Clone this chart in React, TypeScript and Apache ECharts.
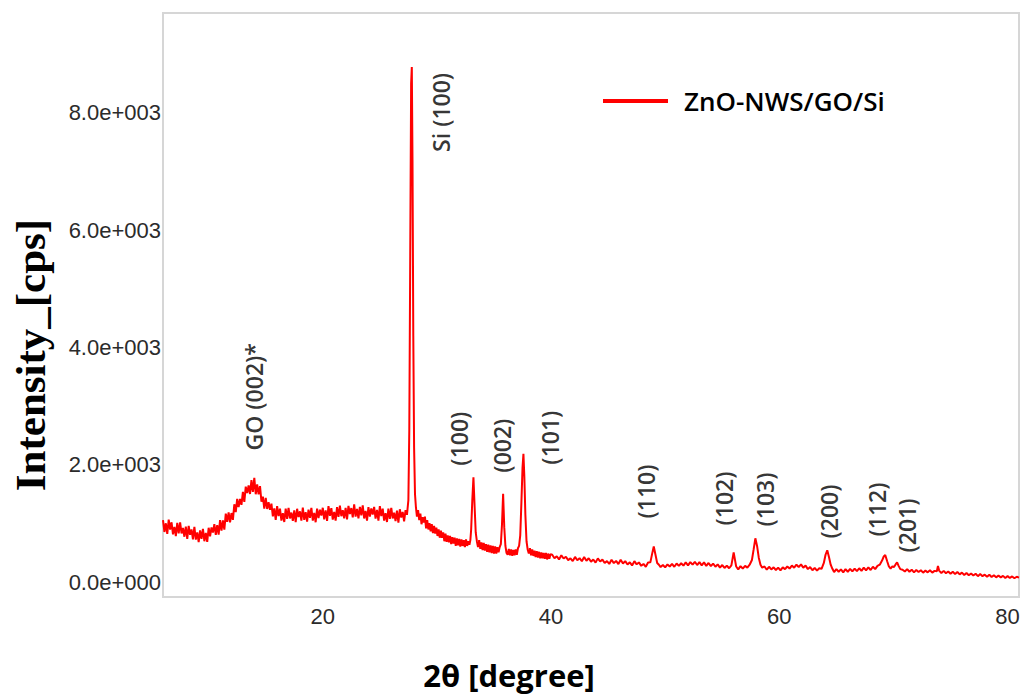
import React, { useEffect, useRef } from "react";
import * as echarts from "echarts";

// ---- data: 2θ [degree] vs intensity [cps] ----
const goRegion: [number, number][] = [
  [6.0, 1060], [6.125, 858], [6.25, 1006], [6.375, 824], [6.5, 1070], [6.625, 897], [6.75, 1023], [6.875, 819],
  [7.0, 945], [7.125, 789], [7.25, 1013], [7.375, 836], [7.5, 1020], [7.625, 832], [7.75, 925], [7.875, 777],
  [8.0, 950], [8.125, 740], [8.25, 960], [8.375, 810], [8.5, 900], [8.625, 732], [8.75, 945], [8.875, 727],
  [9.0, 850], [9.125, 687], [9.25, 885], [9.375, 742], [9.5, 910], [9.625, 700], [9.75, 840], [9.875, 690],
  [10.0, 930], [10.125, 782], [10.25, 935], [10.375, 848], [10.5, 990], [10.625, 807], [10.75, 975], [10.875, 812],
  [11.0, 1060], [11.125, 882], [11.25, 1055], [11.375, 898], [11.5, 1170], [11.625, 1030], [11.75, 1190], [11.875, 1020],
  [12.0, 1180], [12.125, 1065], [12.25, 1330], [12.375, 1195], [12.5, 1420], [12.625, 1280], [12.75, 1420], [12.875, 1320],
  [13.0, 1540], [13.125, 1370], [13.25, 1630], [13.375, 1520], [13.5, 1650], [13.625, 1505], [13.75, 1740], [13.875, 1540],
  [14.0, 1780], [14.125, 1500], [14.25, 1670], [14.375, 1500], [14.5, 1640], [14.625, 1375], [14.75, 1460], [14.875, 1255],
  [15.0, 1440], [15.125, 1250], [15.25, 1365], [15.375, 1235], [15.5, 1340], [15.625, 1125], [15.75, 1260], [15.875, 1065],
  [16.0, 1300], [16.125, 1128], [16.25, 1255], [16.375, 1053], [16.5, 1180], [16.625, 1028], [16.75, 1255], [16.875, 1083],
  [17.0, 1270], [17.125, 1089], [17.25, 1188], [17.375, 1047], [17.5, 1225], [17.625, 1024], [17.75, 1253], [17.875, 1112],
  [18.0, 1210], [18.125, 1051], [18.25, 1273], [18.375, 1064], [18.5, 1195], [18.625, 1036], [18.75, 1238], [18.875, 1099],
  [19.0, 1270], [19.125, 1051], [19.25, 1183], [19.375, 1024], [19.5, 1255], [19.625, 1096], [19.75, 1238], [19.875, 1139],
  [20.0, 1270], [20.125, 1073], [20.25, 1225], [20.375, 1048], [20.5, 1300], [20.625, 1133], [20.75, 1265], [20.875, 1068],
  [21.0, 1200], [21.125, 1051], [21.25, 1283], [21.375, 1114], [21.5, 1305], [21.625, 1126], [21.75, 1228], [21.875, 1089],
  [22.0, 1270], [22.125, 1071], [22.25, 1303], [22.375, 1164], [22.5, 1265], [22.625, 1106], [22.75, 1328], [22.875, 1119],
  [23.0, 1250], [23.125, 1088], [23.25, 1285], [23.375, 1143], [23.5, 1310], [23.625, 1088], [23.75, 1215], [23.875, 1053],
  [24.0, 1280], [24.125, 1119], [24.25, 1258], [24.375, 1156], [24.5, 1285], [24.625, 1084], [24.75, 1233], [24.875, 1051],
  [25.0, 1300], [25.125, 1128], [25.25, 1255], [25.375, 1053], [25.5, 1180], [25.625, 1028], [25.75, 1255], [25.875, 1083],
  [26.0, 1270], [26.125, 1088], [26.25, 1185], [26.375, 1043], [26.5, 1220], [26.625, 1018], [26.75, 1245], [26.875, 1103],
  [27.0, 1200], [27.125, 1038], [27.25, 1230], [27.375, 1150],
];

const siPeak: [number, number][] = [
  [27.5, 1400], [27.58, 2600], [27.66, 5500], [27.74, 8500], [27.8, 8780], [27.86, 7200], [27.93, 4200], [28.0, 2300],
  [28.08, 1500], [28.16, 1280], [28.25, 1120], [28.35, 1230], [28.45, 1060], [28.55, 1170], [28.65, 990], [28.75, 1110],
  [28.85, 1020], [28.95, 1120], [29.05, 920], [29.15, 1060], [29.25, 900], [29.35, 1010], [29.45, 870], [29.55, 990],
  [29.65, 840], [29.75, 960], [29.85, 830], [29.95, 930], [30.05, 790], [30.15, 900], [30.25, 760], [30.35, 880],
  [30.45, 760], [30.55, 850], [30.65, 700], [30.75, 830], [30.85, 690], [30.95, 800], [31.05, 680], [31.15, 790],
  [31.25, 650], [31.35, 770], [31.45, 660], [31.55, 760], [31.65, 620], [31.75, 750], [31.85, 630], [31.95, 740],
  [32.05, 610], [32.15, 730], [32.25, 620], [32.35, 720], [32.45, 600], [32.55, 730], [32.65, 620], [32.75, 700],
  [32.85, 640], [32.93, 720],
];

const znoMainPeaks: [number, number][] = [
  [33.0, 900], [33.1, 1400], [33.2, 1790], [33.3, 1300], [33.4, 850], [33.5, 700], [33.6, 600], [33.7, 720],
  [33.8, 570], [33.9, 680], [34.0, 550], [34.1, 670], [34.2, 540], [34.3, 650], [34.4, 520], [34.5, 640],
  [34.6, 510], [34.7, 630], [34.8, 500], [34.9, 620], [35.0, 490], [35.1, 610], [35.2, 490], [35.3, 600],
  [35.4, 510], [35.5, 600], [35.6, 650], [35.7, 980], [35.8, 1510], [35.9, 940], [36.0, 620], [36.1, 500],
  [36.2, 470], [36.3, 570], [36.4, 460], [36.5, 560], [36.6, 450], [36.7, 550], [36.8, 460], [36.9, 560],
  [37.0, 470], [37.1, 580], [37.2, 620], [37.3, 800], [37.4, 1350], [37.5, 1950], [37.58, 2190], [37.66, 1800],
  [37.75, 1150], [37.85, 700], [37.95, 560], [38.05, 490], [38.15, 580], [38.25, 460], [38.35, 560], [38.45, 450],
  [38.55, 540], [38.65, 430], [38.75, 530], [38.85, 420], [38.95, 520], [39.05, 410], [39.15, 510], [39.25, 410],
  [39.35, 500], [39.45, 400], [39.55, 500], [39.65, 390], [39.75, 490], [39.85, 400], [39.95, 480],
];

const highAngle: [number, number][] = [
  [40.1, 470], [40.3, 410], [40.5, 445], [40.7, 390], [40.9, 460], [41.1, 406], [41.3, 437], [41.5, 378],
  [41.7, 409], [41.9, 361], [42.1, 433], [42.3, 375], [42.5, 412], [42.7, 359], [42.9, 431], [43.1, 368],
  [43.3, 410], [43.5, 352], [43.7, 389], [43.9, 336], [44.1, 408], [44.3, 355], [44.5, 387], [44.7, 329],
  [44.9, 361], [45.1, 313], [45.3, 385], [45.5, 327], [45.7, 364], [45.9, 311], [46.1, 383], [46.3, 320],
  [46.5, 362], [46.7, 304], [46.9, 341], [47.1, 288], [47.3, 360], [47.5, 307], [47.7, 339], [47.9, 281],
  [48.1, 313], [48.3, 265], [48.5, 337], [48.7, 340], [48.85, 480], [49.0, 610], [49.15, 470], [49.3, 330],
  [49.45, 300], [49.6, 260], [49.8, 295], [50.0, 255], [50.2, 305], [50.4, 270], [50.6, 315], [50.8, 265],
  [51.0, 320], [51.2, 280], [51.4, 325], [51.6, 285], [51.8, 340], [52.0, 290], [52.2, 345], [52.4, 300],
  [52.6, 350], [52.8, 295], [53.0, 345], [53.2, 290], [53.4, 340], [53.6, 280], [53.8, 330], [54.0, 275],
  [54.2, 320], [54.4, 265], [54.6, 305], [54.8, 250], [55.0, 295], [55.2, 245], [55.4, 285], [55.6, 240],
  [55.8, 290], [55.92, 420], [56.0, 510], [56.1, 400], [56.22, 270], [56.4, 220], [56.6, 275], [56.8, 235],
  [57.0, 280], [57.2, 250], [57.4, 300], [57.6, 380], [57.75, 560], [57.9, 750], [58.05, 620], [58.2, 420],
  [58.35, 300], [58.5, 250], [58.7, 270], [58.9, 215], [59.1, 265], [59.3, 220], [59.5, 255], [59.7, 210],
  [59.9, 250], [60.1, 205], [60.3, 255], [60.5, 225], [60.7, 270], [60.9, 235], [61.1, 285], [61.3, 250],
  [61.5, 300], [61.7, 260], [61.9, 305], [62.1, 250], [62.3, 285], [62.5, 225], [62.7, 260], [62.9, 205],
  [63.1, 245], [63.3, 200], [63.5, 240], [63.7, 230], [63.9, 330], [64.05, 470], [64.2, 545], [64.35, 430],
  [64.5, 300], [64.65, 230], [64.8, 175], [65.0, 225], [65.2, 180], [65.4, 220], [65.6, 170], [65.8, 225],
  [66.0, 180], [66.2, 230], [66.4, 185], [66.6, 235], [66.8, 190], [67.0, 240], [67.2, 195], [67.4, 250],
  [67.6, 205], [67.8, 255], [68.0, 210], [68.2, 265], [68.4, 225], [68.6, 280], [68.8, 300], [69.0, 370],
  [69.15, 440], [69.28, 465], [69.45, 360], [69.6, 270], [69.75, 235], [69.9, 270], [70.05, 260], [70.2, 310],
  [70.32, 340], [70.45, 280], [70.6, 225], [70.8, 215], [71.0, 185], [71.2, 225], [71.4, 180], [71.6, 215],
  [71.8, 170], [72.0, 210], [72.2, 175], [72.4, 205], [72.6, 165], [72.8, 200], [73.0, 170], [73.2, 205],
  [73.4, 165], [73.6, 195], [73.8, 190], [73.9, 280], [74.0, 200], [74.2, 160], [74.4, 195], [74.6, 155],
  [74.8, 185], [75.0, 145], [75.2, 180], [75.4, 140], [75.6, 175], [75.8, 135], [76.0, 165], [76.2, 125],
  [76.4, 160], [76.6, 120], [76.8, 150], [77.0, 115], [77.2, 145], [77.4, 105], [77.6, 140], [77.8, 105],
  [78.0, 130], [78.2, 95], [78.4, 130], [78.6, 90], [78.8, 120], [79.0, 85], [79.2, 115], [79.4, 85],
  [79.6, 110], [79.8, 75], [80.0, 105], [80.2, 75], [80.4, 100], [80.6, 70], [80.8, 95], [81.0, 80],
];

const peakLabelNames = ["Si (100)", "GO (002)*", "(100)", "(002)", "(101)", "(110)", "(102)", "(103)", "(200)", "(112)", "(201)"];
const peakLabelAngles = [30.39, 13.98, 31.96, 35.74, 39.95, 48.28, 55.12, 58.72, 64.33, 68.54, 71.18];
const peakLabelHeights = [8007, 3162, 2448, 2329, 2465, 1547, 1428, 1411, 1207, 1241, 969];

const seriesName = "ZnO-NWS/GO/Si";
const xMin = 6, xMax = 81, xLabelStep = 20;
const yMin = -250, yMax = 9700, yLabelStep = 2000;

function sci(v: number): string {
  if (Math.abs(v % yLabelStep) > 1e-6) return "";
  if (v === 0) return "0.0e+000";
  const e = Math.floor(Math.log10(Math.abs(v)));
  const m = v / Math.pow(10, e);
  return m.toFixed(1) + "e" + (e >= 0 ? "+" : "-") + String(Math.abs(e)).padStart(3, "0");
}

export default function App() {
  const ref = useRef<HTMLDivElement>(null);
  useEffect(() => {
    if (!ref.current) return;
    const chart = echarts.init(ref.current, undefined, { renderer: "svg" });
    const curve = [...goRegion, ...siPeak, ...znoMainPeaks, ...highAngle];
    const labels = peakLabelNames.map((n, i) => ({ name: n, value: [peakLabelAngles[i], peakLabelHeights[i]] }));
    const tickFont = "'Liberation Sans', Arial, sans-serif";
    chart.setOption({
      animation: false,
      backgroundColor: "#ffffff",
      grid: { left: 163, right: 7, top: 13, bottom: 101, show: true, borderColor: "#d6d6d6", borderWidth: 2, containLabel: false },
      legend: {
        data: [seriesName],
        left: 603, top: 88, padding: 0,
        icon: "rect", itemWidth: 65, itemHeight: 4,
        textStyle: { fontFamily: "'Open Sans', sans-serif", fontSize: 26, fontWeight: 600, color: "#000", padding: [0, 0, 0, 11] },
      },
      xAxis: {
        type: "value", min: xMin, max: xMax, interval: 2,
        axisLine: { show: false }, axisTick: { show: false }, splitLine: { show: false },
        axisLabel: {
          margin: 8, fontFamily: tickFont, fontSize: 22, color: "#2b2b2b",
          formatter: (v: number) => (v % xLabelStep === 0 ? String(v) : ""),
        },
      },
      yAxis: {
        type: "value", min: yMin, max: yMax, interval: 250,
        axisLine: { show: false }, axisTick: { show: false }, splitLine: { show: false },
        axisLabel: { margin: 2, fontFamily: tickFont, fontSize: 22, color: "#2b2b2b", formatter: sci },
      },
      graphic: [
        {
          type: "text", x: 30, y: 355, rotation: Math.PI / 2,
          style: { text: "Intensity_[cps]", fontFamily: "'Liberation Serif', 'Times New Roman', serif", fontWeight: "bold", fontSize: 43, fill: "#000", textAlign: "center", textVerticalAlign: "middle" },
        },
        {
          type: "text", x: 509, y: 675,
          style: { text: "2θ [degree]", fontFamily: "'Open Sans', sans-serif", fontWeight: "bold", fontSize: 31, fill: "#000", textAlign: "center", textVerticalAlign: "middle" },
        },
      ],
      series: [
        {
          name: seriesName, type: "line", data: curve, showSymbol: false, symbol: "none",
          lineStyle: { color: "#ff0000", width: 2 }, itemStyle: { color: "#ff0000" },
        },
        {
          name: "labels", type: "scatter", data: labels, symbolSize: 1,
          itemStyle: { color: "transparent" }, silent: true,
          label: {
            show: true, position: "inside", rotate: 90, formatter: "{b}",
            fontFamily: "'Open Sans', sans-serif", fontSize: 23, fontWeight: 600, color: "#000",
            align: "center", verticalAlign: "middle",
          },
        },
      ],
    });
    return () => chart.dispose();
  }, []);
  return <div ref={ref} style={{ position: "fixed", left: 0, top: 0, width: 1026, height: 698 }} />;
}
